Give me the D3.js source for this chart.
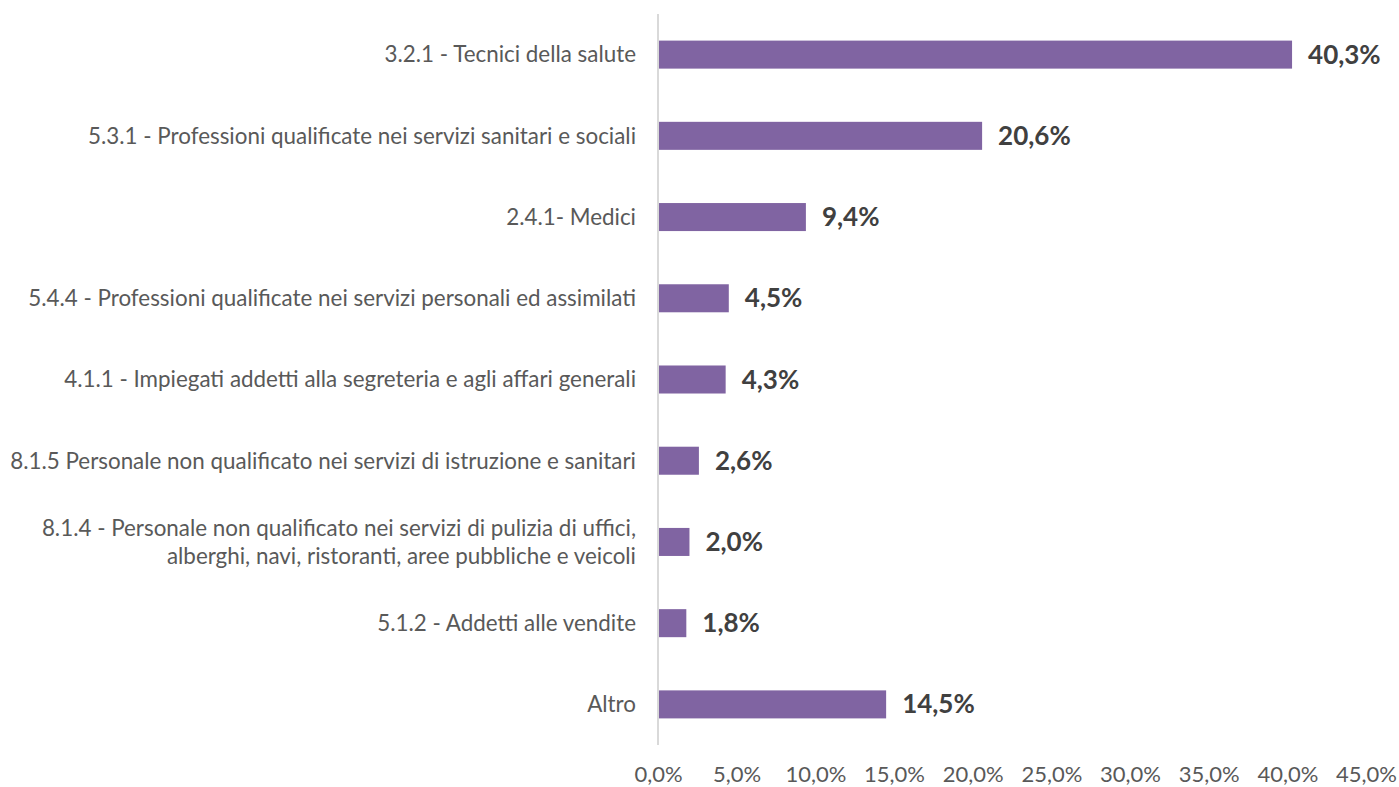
<!DOCTYPE html>
<html><head><meta charset="utf-8">
<script src="https://cdn.jsdelivr.net/npm/d3@7"></script>
<style>body{margin:0;background:#fff}svg{display:block}</style>
</head><body>
<svg id="c" width="1399" height="787"></svg>
<script>
const categories = [
  ["3.2.1 - Tecnici della salute"],
  ["5.3.1 - Professioni qualificate nei servizi sanitari e sociali"],
  ["2.4.1- Medici"],
  ["5.4.4 - Professioni qualificate nei servizi personali ed assimilati"],
  ["4.1.1 - Impiegati addetti alla segreteria e agli affari generali"],
  ["8.1.5 Personale non qualificato nei servizi di istruzione e sanitari"],
  ["8.1.4 - Personale non qualificato nei servizi di pulizia di uffici,", "alberghi, navi, ristoranti, aree pubbliche e veicoli"],
  ["5.1.2 - Addetti alle vendite"],
  ["Altro"]
];
const values = [40.3, 20.6, 9.4, 4.5, 4.3, 2.6, 2.0, 1.8, 14.5];
const ticks = [0, 5, 10, 15, 20, 25, 30, 35, 40, 45];

const svg = d3.select("#c");
const font = "Lato, 'Open Sans', sans-serif";
const x = d3.scaleLinear().domain([0, 45]).range([658, 1366]);
const y = d3.scaleBand().domain(d3.range(values.length)).range([14, 745]).paddingInner(0.655).paddingOuter(0.3275);
const fmt = v => d3.format(".1f")(v).replace(".", ",") + "%";

svg.selectAll("rect.bar").data(values).join("rect")
  .attr("x", x(0)).attr("y", (d,i) => y(i))
  .attr("width", d => x(d) - x(0)).attr("height", y.bandwidth())
  .attr("fill", "#8064a2");

svg.append("line").attr("x1", x(0)).attr("x2", x(0)).attr("y1", 14).attr("y2", 745)
  .attr("stroke", "#d9d9d9").attr("stroke-width", 2);

svg.selectAll("text.val").data(values).join("text")
  .attr("x", d => x(d) + 16).attr("y", (d,i) => y(i) + y.bandwidth()/2)
  .attr("dy", "0.35em").attr("font-family", font).attr("font-weight", "bold")
  .attr("font-size", 26).attr("fill", "#404040").text(d => fmt(d));

const cat = svg.selectAll("text.cat").data(categories).join("text")
  .attr("text-anchor", "end").attr("font-family", font).attr("font-size", 22.4)
  .attr("fill", "#595959");
cat.each(function(lines, i) {
  const cy = y(i) + y.bandwidth()/2;
  const lh = 28;
  const t = d3.select(this);
  lines.forEach((l, k) => {
    t.append("tspan").attr("x", 636)
      .attr("y", cy + (k - (lines.length - 1)/2) * lh)
      .attr("dy", "0.35em").text(l);
  });
});

const xAxis = d3.axisBottom(x).tickValues(ticks).tickSize(0).tickFormat(fmt);
const g = svg.append("g").attr("transform", "translate(0,763)").call(xAxis);
g.select(".domain").remove();
g.selectAll("text").attr("font-family", font).attr("font-size", 22).attr("fill", "#595959");
</script>
</body></html>
